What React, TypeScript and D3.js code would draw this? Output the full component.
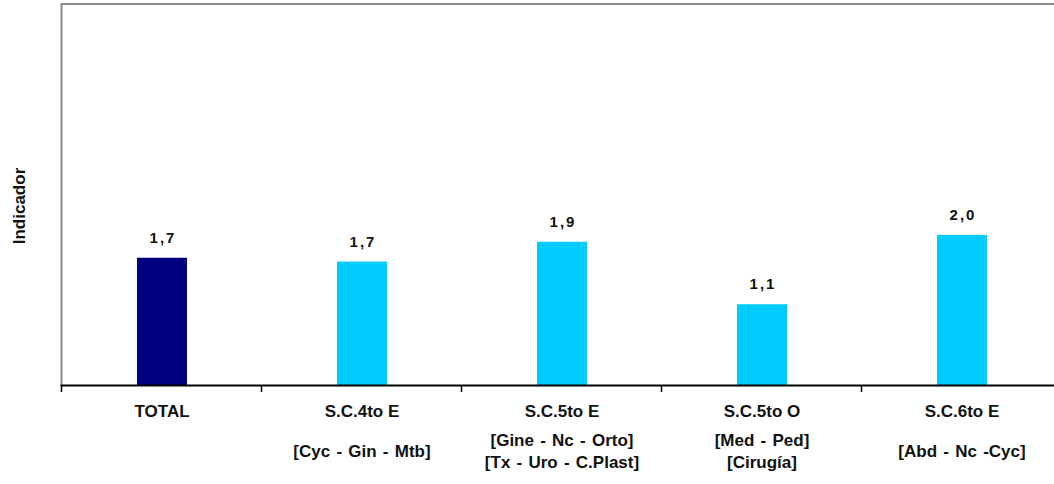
import React from "react";
import * as d3 from "d3";

const categories = ["TOTAL", "S.C.4to E", "S.C.5to E", "S.C.5to O", "S.C.6to E"];
const subtitles: string[][] = [
  [],
  ["[Cyc - Gin - Mtb]"],
  ["[Gine - Nc - Orto]", "[Tx - Uro - C.Plast]"],
  ["[Med - Ped]", "[Cirugía]"],
  ["[Abd - Nc -Cyc]"],
];
const values = [1.67, 1.62, 1.88, 1.06, 1.97];
const valueLabels = ["1,7", "1,7", "1,9", "1,1", "2,0"];
const colors = ["#000080", "#00CCFF", "#00CCFF", "#00CCFF", "#00CCFF"];
const yDomain = [0, 5];
const yTitle = "Indicador";

const W = 1054;
const H = 484;
const plot = { left: 62, right: 1062, top: 4, bottom: 385 };
const FONT = "'Liberation Sans', Arial, sans-serif";

export default function App() {
  const x = d3
    .scaleBand<string>()
    .domain(categories)
    .range([plot.left, plot.right])
    .paddingInner(0.75)
    .paddingOuter(0.375);
  const step = x.step();
  const y = d3.scaleLinear().domain(yDomain).range([plot.bottom, plot.top]);
  const boundaries = categories.map((_, i) => plot.left + i * step);

  return (
    <svg
      width={W}
      height={H}
      style={{ position: "absolute", left: 0, top: 0, background: "#fff" }}
      fontFamily={FONT}
    >
      {/* frame */}
      <line x1={plot.left - 0.5} x2={W} y1={plot.top} y2={plot.top} stroke="#8c8c8c" strokeWidth={2} />
      <line x1={plot.left - 0.5} x2={plot.left - 0.5} y1={plot.top - 1} y2={plot.bottom} stroke="#8c8c8c" strokeWidth={2} />

      {/* bars */}
      {categories.map((c, i) => (
        <rect
          key={c}
          x={x(c)!}
          y={y(values[i])}
          width={x.bandwidth()}
          height={y(0) - y(values[i])}
          fill={colors[i]}
        />
      ))}

      {/* value labels */}
      {categories.map((c, i) => (
        <text
          key={"v" + c}
          x={x(c)! + x.bandwidth() / 2 + 1}
          y={y(values[i]) - 15}
          textAnchor="middle"
          fontSize={15}
          fontWeight="bold"
          letterSpacing={2}
          fill="#111"
        >
          {valueLabels[i]}
        </text>
      ))}

      {/* x axis */}
      <line x1={plot.left - 1.5} x2={W} y1={plot.bottom + 0.5} y2={plot.bottom + 0.5} stroke="#000" strokeWidth={2} />
      {boundaries.map((bx, i) => (
        <line key={"t" + i} x1={bx - 0.5} x2={bx - 0.5} y1={plot.bottom} y2={plot.bottom + 7} stroke="#000" strokeWidth={1.5} />
      ))}

      {/* category labels */}
      {categories.map((c, i) => {
        const cx = x(c)! + x.bandwidth() / 2;
        const lines = subtitles[i];
        const lh = 22;
        const mid = 457;
        const startY = mid - ((lines.length - 1) * lh) / 2;
        return (
          <g key={"c" + c}>
            <text x={cx} y={417} textAnchor="middle" fontSize={17} fontWeight="bold" fill="#111">
              {c}
            </text>
            {lines.map((l, j) => (
              <text key={j} x={cx} y={startY + j * lh} textAnchor="middle" fontSize={17} fontWeight="bold" fill="#111" wordSpacing={1.5}>
                {l}
              </text>
            ))}
          </g>
        );
      })}

      {/* y title */}
      <text
        transform={`translate(25, 206) rotate(-90)`}
        textAnchor="middle"
        fontSize={17}
        fontWeight="bold"
        fill="#111"
      >
        {yTitle}
      </text>
    </svg>
  );
}
